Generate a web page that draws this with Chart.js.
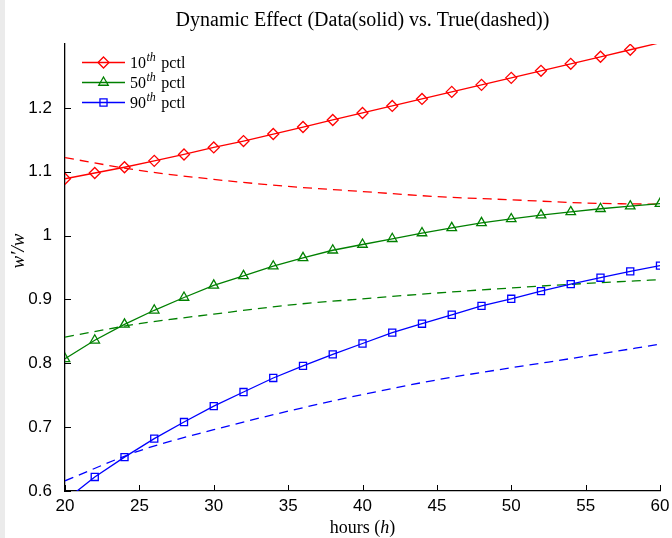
<!DOCTYPE html>
<html><head><meta charset="utf-8">
<script src="https://cdn.jsdelivr.net/npm/chart.js@4.4.0/dist/chart.umd.min.js"></script>
<style>
html,body{margin:0;padding:0;background:#fff;}
#wrap{position:relative;width:672px;height:538px;background:#fff;overflow:hidden;}
#strip{position:absolute;left:0;top:0;width:5px;height:538px;background:#ebebeb;}
canvas{position:absolute;left:0;top:0;}
</style></head><body>
<div id="wrap"><div id="strip"></div><canvas id="c" width="672" height="538"></canvas></div>
<script>
// ---- data ----
const hours = [20,22,24,26,28,30,32,34,36,38,40,42,44,46,48,50,52,54,56,58,60];
const p10Data = [1.089,1.098,1.107,1.117,1.127,1.138,1.148,1.159,1.170,1.181,1.192,1.203,1.214,1.225,1.236,1.247,1.258,1.269,1.280,1.291,1.302];
const p50Data = [0.807,0.836,0.861,0.883,0.903,0.922,0.937,0.952,0.965,0.977,0.986,0.995,1.004,1.012,1.020,1.026,1.032,1.037,1.042,1.046,1.050];
const p90Data = [0.585,0.622,0.653,0.682,0.708,0.733,0.755,0.777,0.796,0.814,0.831,0.848,0.862,0.876,0.890,0.901,0.913,0.924,0.934,0.944,0.953];
const trueHours = [20,25,30,35,40,45,50,55,60];
const p10True = [1.122,1.102,1.088,1.077,1.069,1.061,1.056,1.051,1.049];
const p50True = [0.841,0.862,0.877,0.891,0.901,0.910,0.918,0.925,0.931];
const p90True = [0.616,0.663,0.696,0.725,0.751,0.774,0.793,0.811,0.830];
const xTicks = [20,25,30,35,40,45,50,55,60];
const yTicks = [0.6,0.7,0.8,0.9,1.0,1.1,1.2];
const seriesLabels = ['10th pctl','50th pctl','90th pctl'];
const titleText = 'Dynamic Effect (Data(solid) vs. True(dashed))';

const X_MIN = 20, X_MAX = 60, Y_MIN = 0.6, Y_MAX = 1.3;
const RED = '#ff0000', GREEN = '#008000', BLUE = '#0000ff';
const SERIF = '"Liberation Serif", "Times New Roman", serif';
const SANS = '"Liberation Sans", Arial, sans-serif';

const pts = (xs, ys) => xs.map((x, i) => ({x: x, y: ys[i]}));
const radiusIfInside = r => ctx => {
  const v = ctx.raw;
  if (!v) return r;
  return (v.y > Y_MAX + 1e-9 || v.y < Y_MIN - 1e-9) ? 0 : r;
};

function solid(label, xs, ys, color, style, r) {
  return {
    label: label, data: pts(xs, ys), borderColor: color, borderWidth: 1.3,
    pointStyle: style, pointRadius: radiusIfInside(r), pointHoverRadius: radiusIfInside(r),
    pointBorderColor: color, pointBackgroundColor: 'rgba(0,0,0,0)', pointBorderWidth: 1.3,
    tension: 0, fill: false, clip: 0
  };
}
function dashed(label, xs, ys, color) {
  return {
    label: label, data: pts(xs, ys), borderColor: color, borderWidth: 1.3,
    borderDash: [9, 6], pointRadius: 0, pointHoverRadius: 0,
    cubicInterpolationMode: 'monotone', fill: false, clip: 0
  };
}

const legendMarkers = [
  {color: RED, style: 'diamond'},
  {color: GREEN, style: 'triangle'},
  {color: BLUE, style: 'square'}
];

function drawMarker(ctx, style, x, y, color) {
  ctx.save();
  ctx.strokeStyle = color; ctx.lineWidth = 1.3;
  ctx.beginPath();
  if (style === 'diamond') {
    ctx.moveTo(x, y - 5.5); ctx.lineTo(x + 5.5, y); ctx.lineTo(x, y + 5.5); ctx.lineTo(x - 5.5, y); ctx.closePath();
  } else if (style === 'triangle') {
    const r = 5.5;
    ctx.moveTo(x, y - r);
    ctx.lineTo(x + r * Math.sin(2 * Math.PI / 3), y - r * Math.cos(2 * Math.PI / 3));
    ctx.lineTo(x + r * Math.sin(4 * Math.PI / 3), y - r * Math.cos(4 * Math.PI / 3));
    ctx.closePath();
  } else {
    const s = 5 * Math.SQRT1_2;
    ctx.rect(x - s, y - s, 2 * s, 2 * s);
  }
  ctx.stroke();
  ctx.restore();
}

const matlabPlugin = {
  id: 'matlabLook',
  afterDraw(chart) {
    const ctx = chart.ctx;
    const a = chart.chartArea;
    const xs = chart.scales.x, ys = chart.scales.y;
    ctx.save();
    // inward tick marks
    ctx.strokeStyle = '#000'; ctx.lineWidth = 1;
    ctx.beginPath();
    yTicks.forEach(v => {
      const py = Math.round(ys.getPixelForValue(v)) + 0.5;
      ctx.moveTo(a.left, py); ctx.lineTo(a.left + 6, py);
    });
    xTicks.forEach(v => {
      const px = Math.round(xs.getPixelForValue(v)) + 0.5;
      ctx.moveTo(px, a.bottom); ctx.lineTo(px, a.bottom - 6);
    });
    ctx.stroke();

    // x axis title: hours (h)
    ctx.fillStyle = '#000';
    ctx.textBaseline = 'alphabetic';
    const f1 = '18px ' + SERIF, f2 = 'italic 18px ' + SERIF;
    const parts = [['hours (', f1], ['h', f2], [')', f1]];
    let total = 0;
    parts.forEach(p => { ctx.font = p[1]; total += ctx.measureText(p[0]).width; });
    let cx = (a.left + a.right) / 2 - total / 2;
    parts.forEach(p => { ctx.font = p[1]; ctx.textAlign = 'left'; ctx.fillText(p[0], cx, 533); cx += ctx.measureText(p[0]).width; });

    // y axis title: w'/w
    ctx.save();
    ctx.translate(24, 251);
    ctx.rotate(-Math.PI / 2);
    ctx.font = 'italic 19px ' + SERIF;
    ctx.textAlign = 'center';
    ctx.fillText('w\u2032/w', 0, 0);
    ctx.restore();

    // legend
    const rowsY = [62, 82, 102];
    chart.data.datasets.slice(0, 3).forEach((ds, i) => {
      const y = rowsY[i];
      const m = legendMarkers[i];
      ctx.strokeStyle = m.color; ctx.lineWidth = 1.3;
      ctx.beginPath(); ctx.moveTo(82, y + 0.5); ctx.lineTo(125, y + 0.5); ctx.stroke();
      drawMarker(ctx, m.style, 103.5, y + 0.5, m.color);
      const lab = seriesLabels[i];
      const num = lab.slice(0, 2), sup = lab.slice(2, 4), rest = lab.slice(4);
      ctx.fillStyle = '#000'; ctx.textAlign = 'left';
      let tx = 130;
      ctx.font = '16px ' + SERIF; ctx.fillText(num, tx, y + 5.5); tx += ctx.measureText(num).width + 0.5;
      ctx.font = 'italic 12px ' + SERIF; ctx.fillText(sup, tx, y - 1); tx += ctx.measureText(sup).width;
      ctx.font = '16px ' + SERIF; ctx.fillText(rest, tx + 1.5, y + 5.5);
    });
    ctx.restore();
  }
};

new Chart(document.getElementById('c'), {
  type: 'line',
  data: {
    datasets: [
      solid(seriesLabels[0], hours, p10Data, RED, 'rectRot', 5.5),
      solid(seriesLabels[1], hours, p50Data, GREEN, 'triangle', 5.5),
      solid(seriesLabels[2], hours, p90Data, BLUE, 'rect', 5),
      dashed('10th pctl (true)', trueHours, p10True, RED),
      dashed('50th pctl (true)', trueHours, p50True, GREEN),
      dashed('90th pctl (true)', trueHours, p90True, BLUE)
    ]
  },
  options: {
    responsive: false, animation: false, devicePixelRatio: 1,
    layout: {padding: {left: 0, right: 12, top: 0, bottom: 0}},
    plugins: {
      legend: {display: false},
      tooltip: {enabled: false},
      title: {
        display: true, text: titleText, color: '#000', fullSize: false,
        font: {family: SERIF, size: 20, weight: 'normal'},
        padding: {top: 9, bottom: 11}
      }
    },
    scales: {
      x: {
        type: 'linear', min: X_MIN, max: X_MAX,
        afterFit: s => { s.height = 47; },
        afterBuildTicks: s => { s.ticks = xTicks.map(v => ({value: v})); },
        ticks: {color: '#000', font: {family: SANS, size: 17}, padding: -3, maxRotation: 0, autoSkip: false},
        grid: {display: false},
        border: {display: true, color: '#000', width: 1.3}
      },
      y: {
        type: 'linear', min: Y_MIN, max: Y_MAX,
        afterFit: s => { s.width = 65; },
        afterBuildTicks: s => { s.ticks = yTicks.map(v => ({value: v})); },
        ticks: {color: '#000', font: {family: SANS, size: 17}, padding: 5,
          callback: v => String(+Number(v).toFixed(1))},
        grid: {display: false},
        border: {display: true, color: '#000', width: 1.3}
      }
    }
  },
  plugins: [matlabPlugin]
});
</script>
</body></html>
